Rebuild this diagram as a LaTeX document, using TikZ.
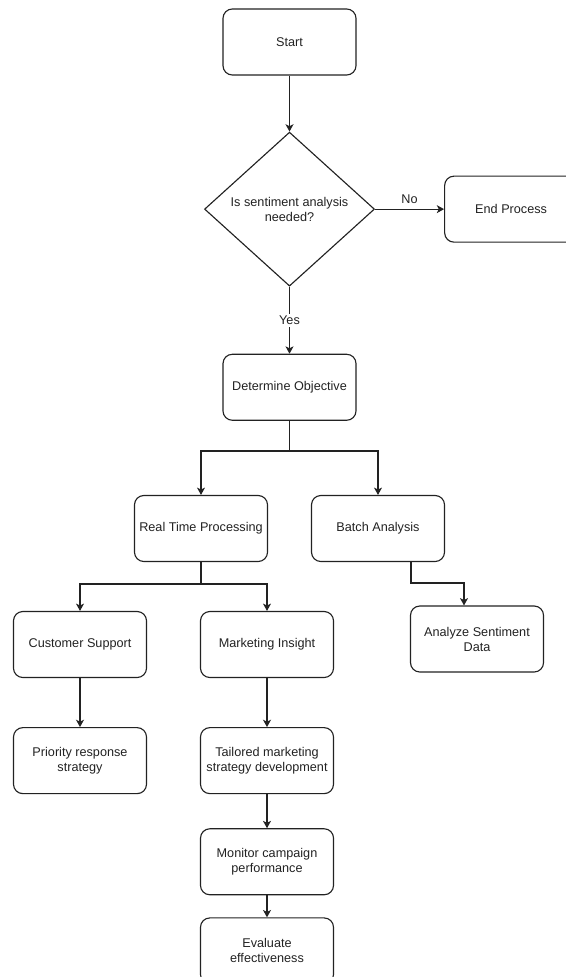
\documentclass[tikz,border=0pt]{standalone}
\usepackage{fontspec}
\setmainfont{Liberation Sans}
\usetikzlibrary{shapes.geometric, positioning, arrows.meta}
\definecolor{flowink}{RGB}{34,34,34}

\begin{document}
\begin{tikzpicture}[
  x=0.75pt, y=-0.75pt,
  font=\fontsize{9.5pt}{11.25pt}\selectfont,
  node distance=30pt,
  box/.style={
    draw=flowink, rounded corners=7pt, align=center, line width=0.85pt,
    minimum width=99.75pt, minimum height=49.5pt, inner sep=1pt, text=flowink
  },
  decision/.style={
    draw=flowink, diamond, aspect=1.1, align=center, line width=0.85pt,
    minimum width=127.5pt, minimum height=115.5pt, inner sep=0pt, text=flowink
  },
  arrow/.style={-{Stealth[length=5.5pt,width=6pt,inset=1.5pt]}, line width=0.85pt, draw=flowink},
  link/.style={line width=0.85pt, draw=flowink},
  lbl/.style={text=flowink, inner sep=1.5pt}
]
\useasboundingbox (0,0) rectangle (566,977);

% main column
\node[box] (start) at (289.5,42) {Start};
\node[decision, below=42pt of start] (need) {Is sentiment analysis\\needed?};
\node[box, right=51.75pt of need] (stop) {End Process};
\node[box, below=50.25pt of need] (goal) {Determine Objective};

% processing branches
\node[box] (realtime) at (201,528.5) {Real Time Processing};
\node[box] (batch) at (378,528.5) {Batch Analysis};
\node[box] (support) at (80,644.5) {Customer Support};
\node[box] (insight) at (267,644.5) {Marketing Insight};
\node[box] (analyze) at (477,639) {Analyze Sentiment\\Data};

% follow-up steps
\node[box, below=36.75pt of support] (priority) {Priority response\\strategy};
\node[box, below=36.75pt of insight] (tailored) {Tailored marketing\\strategy development};
\node[box, below=25.5pt of tailored] (monitor) {Monitor campaign\\performance};
\node[box, below=16.5pt of monitor] (evaluate) {Evaluate\\effectiveness};

% junctions
\coordinate (jgoal) at (289.5,451);
\coordinate (jreal) at (201,584);
\coordinate (jbatchA) at (411,583);
\coordinate (jbatchB) at (464,583);

\draw[arrow] (start.south) -- (need.north);
\draw[arrow] (need.east) -- node[lbl, above=2pt] {No} (stop.west);
\draw[arrow] (need.south) -- node[lbl, fill=white] {Yes} (goal.north);

\draw[link] (goal.south) -- (jgoal);
\draw[arrow] (jgoal) -| (realtime.north);
\draw[arrow] (jgoal) -| (batch.north);

\draw[link] (realtime.south) -- (jreal);
\draw[arrow] (jreal) -| (support.north);
\draw[arrow] (jreal) -| (insight.north);

\draw[arrow] (batch.south -| jbatchA) -- (jbatchA) -- (jbatchB) -- (analyze.north -| jbatchB);

\draw[arrow] (support.south) -- (priority.north);
\draw[arrow] (insight.south) -- (tailored.north);
\draw[arrow] (tailored.south) -- (monitor.north);
\draw[arrow] (monitor.south) -- (evaluate.north);
\end{tikzpicture}
\end{document}
